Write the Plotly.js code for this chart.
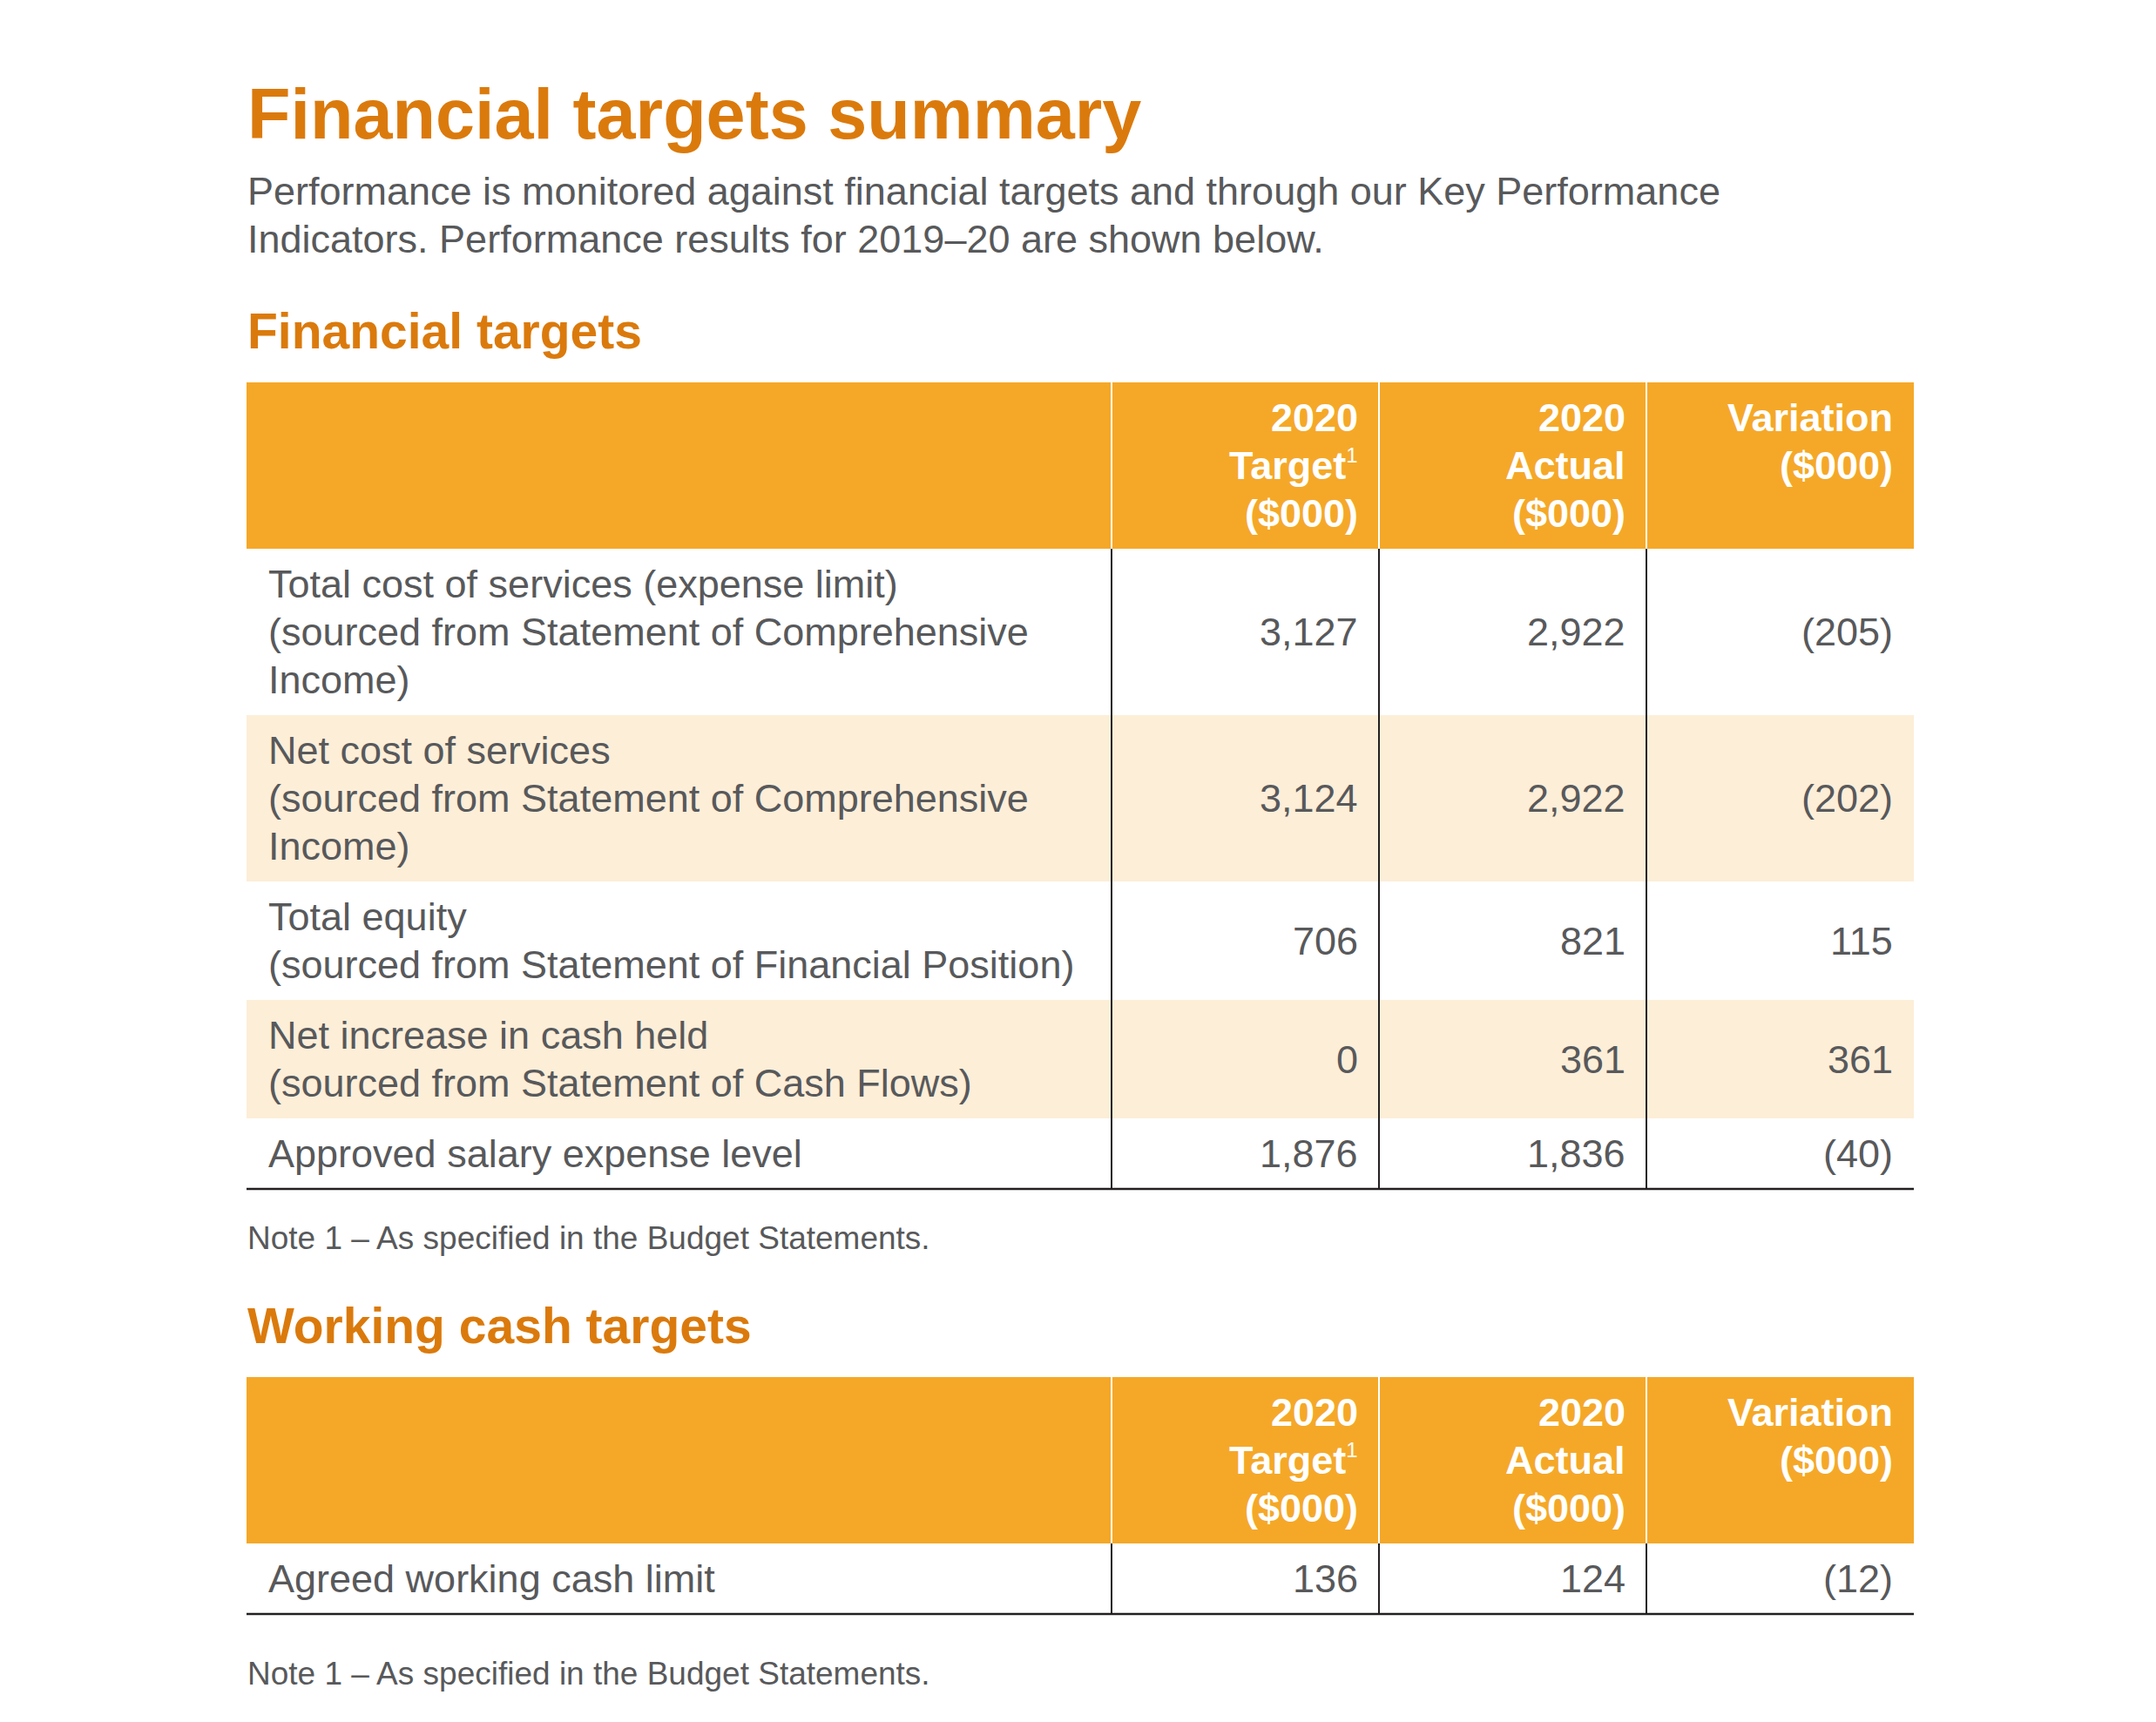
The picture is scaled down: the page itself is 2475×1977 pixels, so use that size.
<!DOCTYPE html>
<html>
<head>
<meta charset="utf-8">
<script src="https://cdn.plot.ly/plotly-3.0.1.min.js"></script>
<style>
html,body{margin:0;padding:0;background:#ffffff;}
#chart{width:2475px;height:1977px;}
</style>
</head>
<body>
<div id="chart"></div>
<script>
// ---------------- DATA ----------------
const pageTitle = "Financial targets summary";
const introLines = [
  "Performance is monitored against financial targets and through our Key Performance",
  "Indicators. Performance results for 2019–20 are shown below."
];
const heading1 = "Financial targets";
const heading2 = "Working cash targets";
const noteText = "Note 1 – As specified in the Budget Statements.";
const columnHeaders = [
  "2020<br>Target<sup><span style=\"font-weight:normal;font-size:24px\">1</span></sup><br>($000)",
  "2020<br>Actual<br>($000)",
  "Variation<br>($000)"
];
const financialItems = [
  "Total cost of services (expense limit)<br>(sourced from Statement of Comprehensive<br>Income)",
  "Net cost of services<br>(sourced from Statement of Comprehensive<br>Income)",
  "Total equity<br>(sourced from Statement of Financial Position)",
  "Net increase in cash held<br>(sourced from Statement of Cash Flows)",
  "Approved salary expense level"
];
const financialTarget = [3127, 3124, 706, 0, 1876];
const financialActual = [2922, 2922, 821, 361, 1836];
const financialVariation = [-205, -202, 115, 361, -40];
const cashItems = ["Agreed working cash limit"];
const cashTarget = [136];
const cashActual = [124];
const cashVariation = [-12];

// ---------------- STYLE ----------------
const W = 2475, H = 1977;
const FONT = "Liberation Sans, Arial, Helvetica, sans-serif";
const ORANGE_TEXT = "#DB7A0C";
const HEADER_FILL = "#F5A828";
const STRIPE_FILL = "#FDEED8";
const TEXT_GREY = "#58595B";
const RULE = "#231F20";
const LEFT = 283;
const COL_WIDTHS = [993, 307, 307, 307];
const LINE_H = 55;
const ROW_PAD = 13;
const TEXT_PAD_L = 24;
const TEXT_PAD_R = 23;
const BODY_SIZE = 45;

function fmt(v) {
  const s = Math.abs(v).toLocaleString("en-US");
  return v < 0 ? "(" + s + ")" : s;
}

const shapes = [];
const annotations = [];

function addText(text, x, yCenter, size, color, bold, anchor) {
  annotations.push({
    xref: "x", yref: "y", x: x, y: yCenter,
    text: bold ? "<b>" + text + "</b>" : text,
    showarrow: false,
    xanchor: anchor || "left", yanchor: "middle",
    font: {family: FONT, size: size, color: color},
    borderpad: 0
  });
}

// text positioned by baseline (center = baseline - 0.3465*size)
function addTextBase(text, x, baseline, size, color, bold, anchor) {
  addText(text, x, baseline - 0.3465 * size, size, color, bold, anchor);
}

function colEdges() {
  const e = [LEFT];
  COL_WIDTHS.forEach(w => e.push(e[e.length - 1] + w));
  return e;
}

function drawTable(top, items, target, actual, variation) {
  const edges = colEdges();
  const right = edges[edges.length - 1];
  // header
  const headerLines = Math.max.apply(null, columnHeaders.map(h => h.split("<br>").length));
  const hh = headerLines * LINE_H + 2 * ROW_PAD;
  shapes.push({type: "rect", xref: "x", yref: "y", x0: LEFT, x1: right, y0: top, y1: top + hh,
    fillcolor: HEADER_FILL, line: {width: 0}, layer: "below"});
  columnHeaders.forEach((h, c) => {
    h.split("<br>").forEach((ln, i) => {
      addText(ln, edges[c + 2] - TEXT_PAD_R, top + ROW_PAD + LINE_H / 2 + i * LINE_H,
        BODY_SIZE, "#ffffff", true, "right");
    });
  });
  for (let c = 1; c < edges.length - 1; c++) {
    shapes.push({type: "line", xref: "x", yref: "y", x0: edges[c], x1: edges[c], y0: top, y1: top + hh,
      line: {color: "#ffffff", width: 2}});
  }
  // body rows
  let y = top + hh;
  const bodyTop = y;
  const cols = [target, actual, variation];
  items.forEach((label, r) => {
    const lines = label.split("<br>");
    const rh = lines.length * LINE_H + 2 * ROW_PAD;
    if (r % 2 === 1) {
      shapes.push({type: "rect", xref: "x", yref: "y", x0: LEFT, x1: right, y0: y, y1: y + rh,
        fillcolor: STRIPE_FILL, line: {width: 0}, layer: "below"});
    }
    lines.forEach((ln, i) => {
      addText(ln, LEFT + TEXT_PAD_L, y + ROW_PAD + LINE_H / 2 + i * LINE_H, BODY_SIZE, TEXT_GREY, false, "left");
    });
    cols.forEach((arr, c) => {
      addText(fmt(arr[r]), edges[c + 2] - TEXT_PAD_R, y + rh / 2, BODY_SIZE, TEXT_GREY, false, "right");
    });
    y += rh;
  });
  for (let c = 1; c < edges.length - 1; c++) {
    shapes.push({type: "line", xref: "x", yref: "y", x0: edges[c], x1: edges[c], y0: bodyTop, y1: y,
      line: {color: RULE, width: 2}});
  }
  shapes.push({type: "line", xref: "x", yref: "y", x0: LEFT, x1: right, y0: y, y1: y,
    line: {color: RULE, width: 2.5}});
  return y;
}

// ---------------- PAGE ----------------
addTextBase(pageTitle, LEFT, 159, 81, ORANGE_TEXT, true, "left");
introLines.forEach((ln, i) => addTextBase(ln, LEFT, 235 + i * 55, BODY_SIZE, TEXT_GREY, false, "left"));
addTextBase(heading1, LEFT, 400, 57, ORANGE_TEXT, true, "left");
const t1Bottom = drawTable(439, financialItems, financialTarget, financialActual, financialVariation);
addTextBase(noteText, LEFT, t1Bottom + 69, 37, TEXT_GREY, false, "left");
addTextBase(heading2, LEFT, 1542, 57, ORANGE_TEXT, true, "left");
const t2Bottom = drawTable(1581, cashItems, cashTarget, cashActual, cashVariation);
addTextBase(noteText, LEFT, t2Bottom + 81, 37, TEXT_GREY, false, "left");

const layout = {
  width: W, height: H,
  margin: {l: 0, r: 0, t: 0, b: 0, pad: 0},
  paper_bgcolor: "#ffffff", plot_bgcolor: "#ffffff",
  showlegend: false,
  xaxis: {range: [0, W], visible: false, fixedrange: true},
  yaxis: {range: [H, 0], visible: false, fixedrange: true},
  shapes: shapes,
  annotations: annotations
};

Plotly.newPlot("chart", [], layout, {staticPlot: true, displayModeBar: false});
</script>
</body>
</html>
